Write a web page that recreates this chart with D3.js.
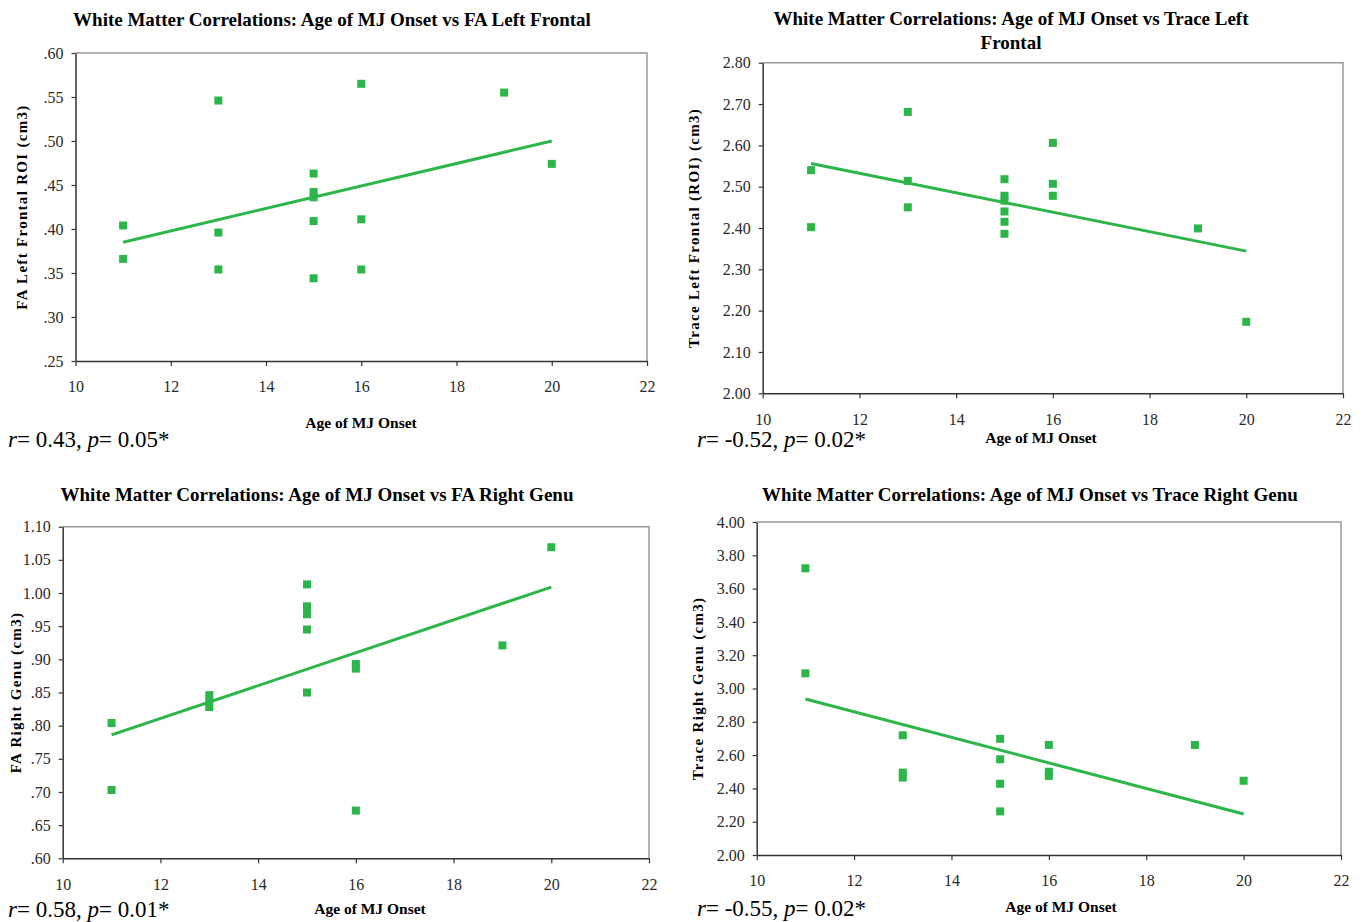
<!DOCTYPE html>
<html>
<head>
<meta charset="utf-8">
<script src="https://cdn.jsdelivr.net/npm/d3@7"></script>
<style>
  body { margin: 0; background: #fff; }
  svg { display: block; }
  text { font-family: "Liberation Serif", "Times New Roman", serif; }
</style>
</head>
<body>
<script>
// x axis, shared by every panel
var ageTicks = [10, 12, 14, 16, 18, 20, 22];

// panel 1 - FA left frontal
var faLfAge = [11, 11, 13, 13, 13, 15, 15, 15, 15, 15, 16, 16, 16, 19, 20];
var faLfVal = [.404, .366, .546, .396, .354, .463, .442, .436, .409, .344, .565, .411, .354, .555, .474];
var faLfFit = [[11, .385], [20, .500]];
var faLfTicks = [.25, .30, .35, .40, .45, .50, .55, .60];

// panel 2 - trace left frontal
var trLfAge = [11, 11, 13, 13, 13, 15, 15, 15, 15, 15, 15, 16, 16, 16, 19, 20];
var trLfVal = [2.540, 2.402, 2.681, 2.514, 2.450, 2.518, 2.478, 2.466, 2.440, 2.415, 2.386, 2.606, 2.507, 2.478, 2.399, 2.173];
var trLfFit = [[11, 2.556], [20, 2.344]];
var trLfTicks = [2.0, 2.1, 2.2, 2.3, 2.4, 2.5, 2.6, 2.7, 2.8];

// panel 3 - FA right genu
var faRgAge = [11, 11, 13, 13, 13, 15, 15, 15, 15, 15, 15, 16, 16, 16, 19, 20];
var faRgVal = [.804, .703, .846, .836, .828, 1.013, .980, .974, .968, .945, .850, .893, .886, .672, .921, 1.069];
var faRgFit = [[11, .786], [20, 1.009]];
var faRgTicks = [.60, .65, .70, .75, .80, .85, .90, .95, 1.00, 1.05, 1.10];

// panel 4 - trace right genu
var trRgAge = [11, 11, 13, 13, 13, 15, 15, 15, 15, 16, 16, 16, 19, 20];
var trRgVal = [3.722, 3.091, 2.719, 2.495, 2.465, 2.698, 2.575, 2.428, 2.262, 2.661, 2.500, 2.475, 2.661, 2.446];
var trRgFit = [[11, 2.937], [20, 2.246]];
var trRgTicks = [2.0, 2.2, 2.4, 2.6, 2.8, 3.0, 3.2, 3.4, 3.6, 3.8, 4.0];

var green = "rgb(44,182,74)";
var axisColor = "#333";
var frameColor = "#999";

// "0.60" -> ".60", keeps "1.10"
var noLead = function(d) { return d3.format(".2f")(d).replace(/^0\./, "."); };
var twoDec = d3.format(".2f");

var panels = [
  { title: ["White Matter Correlations: Age of MJ Onset vs FA Left Frontal"], titleX: 332, titleY: 26,
    box: [75.5, 53, 647, 361], age: faLfAge, val: faLfVal, fit: faLfFit, ticks: faLfTicks, fmt: noLead,
    yLabel: "FA Left Frontal ROI (cm3)", yLabelX: 22, xLabelX: 361, xLabelY: 428,
    stat: ["0.43", "0.05*"], statX: 8, statY: 447 },
  { title: ["White Matter Correlations: Age of MJ Onset vs Trace Left", "Frontal"], titleX: 1011, titleY: 25,
    box: [762.7, 62.7, 1343, 393.3], age: trLfAge, val: trLfVal, fit: trLfFit, ticks: trLfTicks, fmt: twoDec,
    yLabel: "Trace Left Frontal (ROI) (cm3)", yLabelX: 694, xLabelX: 1041, xLabelY: 443,
    stat: ["-0.52", "0.02*"], statX: 697, statY: 447 },
  { title: ["White Matter Correlations: Age of MJ Onset vs FA Right Genu"], titleX: 317, titleY: 501,
    box: [62.7, 526.7, 649, 858.3], age: faRgAge, val: faRgVal, fit: faRgFit, ticks: faRgTicks, fmt: noLead,
    yLabel: "FA Right Genu (cm3)", yLabelX: 16, xLabelX: 370, xLabelY: 914,
    stat: ["0.58", "0.01*"], statX: 8, statY: 917 },
  { title: ["White Matter Correlations: Age of MJ Onset vs Trace Right Genu"], titleX: 1030, titleY: 501,
    box: [756.7, 522, 1341, 855], age: trRgAge, val: trRgVal, fit: trRgFit, ticks: trRgTicks, fmt: twoDec,
    yLabel: "Trace Right Genu (cm3)", yLabelX: 698, xLabelX: 1061, xLabelY: 912,
    stat: ["-0.55", "0.02*"], statX: 697, statY: 916 }
];

var svg = d3.select("body").append("svg")
  .attr("width", 1365)
  .attr("height", 922);

panels.forEach(function(p) {
  var x0 = p.box[0], y0 = p.box[1], x1 = p.box[2], y1 = p.box[3];
  var yExt = d3.extent(p.ticks);

  var x = d3.scaleLinear().domain([10, 22]).range([x0, x1]);
  var y = d3.scaleLinear().domain(yExt).range([y1, y0]);

  var g = svg.append("g");

  // grey frame on top and right
  g.append("path")
    .attr("d", "M" + x0 + "," + y0 + "H" + x1 + "V" + y1)
    .attr("fill", "none")
    .attr("stroke", frameColor)
    .attr("stroke-width", 1.5);

  // axes
  var xAxis = g.append("g")
    .attr("transform", "translate(0," + y1 + ")")
    .call(d3.axisBottom(x).tickValues(ageTicks).tickSize(5).tickPadding(15).tickSizeOuter(0));
  var yAxis = g.append("g")
    .attr("transform", "translate(" + x0 + ",0)")
    .call(d3.axisLeft(y).tickValues(p.ticks).tickFormat(p.fmt).tickSize(4).tickPadding(8).tickSizeOuter(0));

  [xAxis, yAxis].forEach(function(a) {
    a.select(".domain").attr("stroke", axisColor).attr("stroke-width", 1.5);
    a.selectAll(".tick line").attr("stroke", axisColor).attr("stroke-width", 1.2);
    a.selectAll(".tick text")
      .attr("fill", "#2a2a2a")
      .style("font-family", "Liberation Serif")
      .style("font-size", "16px");
  });

  // fitted line
  g.append("line")
    .attr("x1", x(p.fit[0][0])).attr("y1", y(p.fit[0][1]))
    .attr("x2", x(p.fit[1][0])).attr("y2", y(p.fit[1][1]))
    .attr("stroke", green)
    .attr("stroke-width", 3);

  // points
  var pts = p.age.map(function(a, i) { return { age: a, val: p.val[i] }; });
  g.selectAll("rect.pt")
    .data(pts)
    .enter()
    .append("rect")
    .attr("class", "pt")
    .attr("x", function(d) { return x(d.age) - 4; })
    .attr("y", function(d) { return y(d.val) - 4; })
    .attr("width", 8)
    .attr("height", 8)
    .attr("fill", green);

  // title
  var t = g.append("text")
    .attr("x", p.titleX)
    .attr("y", p.titleY)
    .attr("text-anchor", "middle")
    .style("font-size", "19px")
    .style("font-weight", "bold");
  p.title.forEach(function(line, i) {
    t.append("tspan").attr("x", p.titleX).attr("dy", i === 0 ? 0 : 24).text(line);
  });

  // axis titles
  g.append("text")
    .attr("x", p.xLabelX)
    .attr("y", p.xLabelY)
    .attr("text-anchor", "middle")
    .style("font-size", "15.5px")
    .style("font-weight", "bold")
    .text("Age of MJ Onset");

  g.append("text")
    .attr("transform", "translate(" + p.yLabelX + "," + ((y0 + y1) / 2) + ") rotate(-90)")
    .attr("text-anchor", "middle")
    .attr("dy", "0.35em")
    .style("font-size", "15px")
    .style("font-weight", "bold")
    .style("letter-spacing", "1.3px")
    .text(p.yLabel);

  // r / p note
  var s = g.append("text")
    .attr("x", p.statX)
    .attr("y", p.statY)
    .style("font-size", "23px");
  s.append("tspan").style("font-style", "italic").text("r");
  s.append("tspan").text("= " + p.stat[0] + ", ");
  s.append("tspan").style("font-style", "italic").text("p");
  s.append("tspan").text("= " + p.stat[1]);
});
</script>
</body>
</html>
